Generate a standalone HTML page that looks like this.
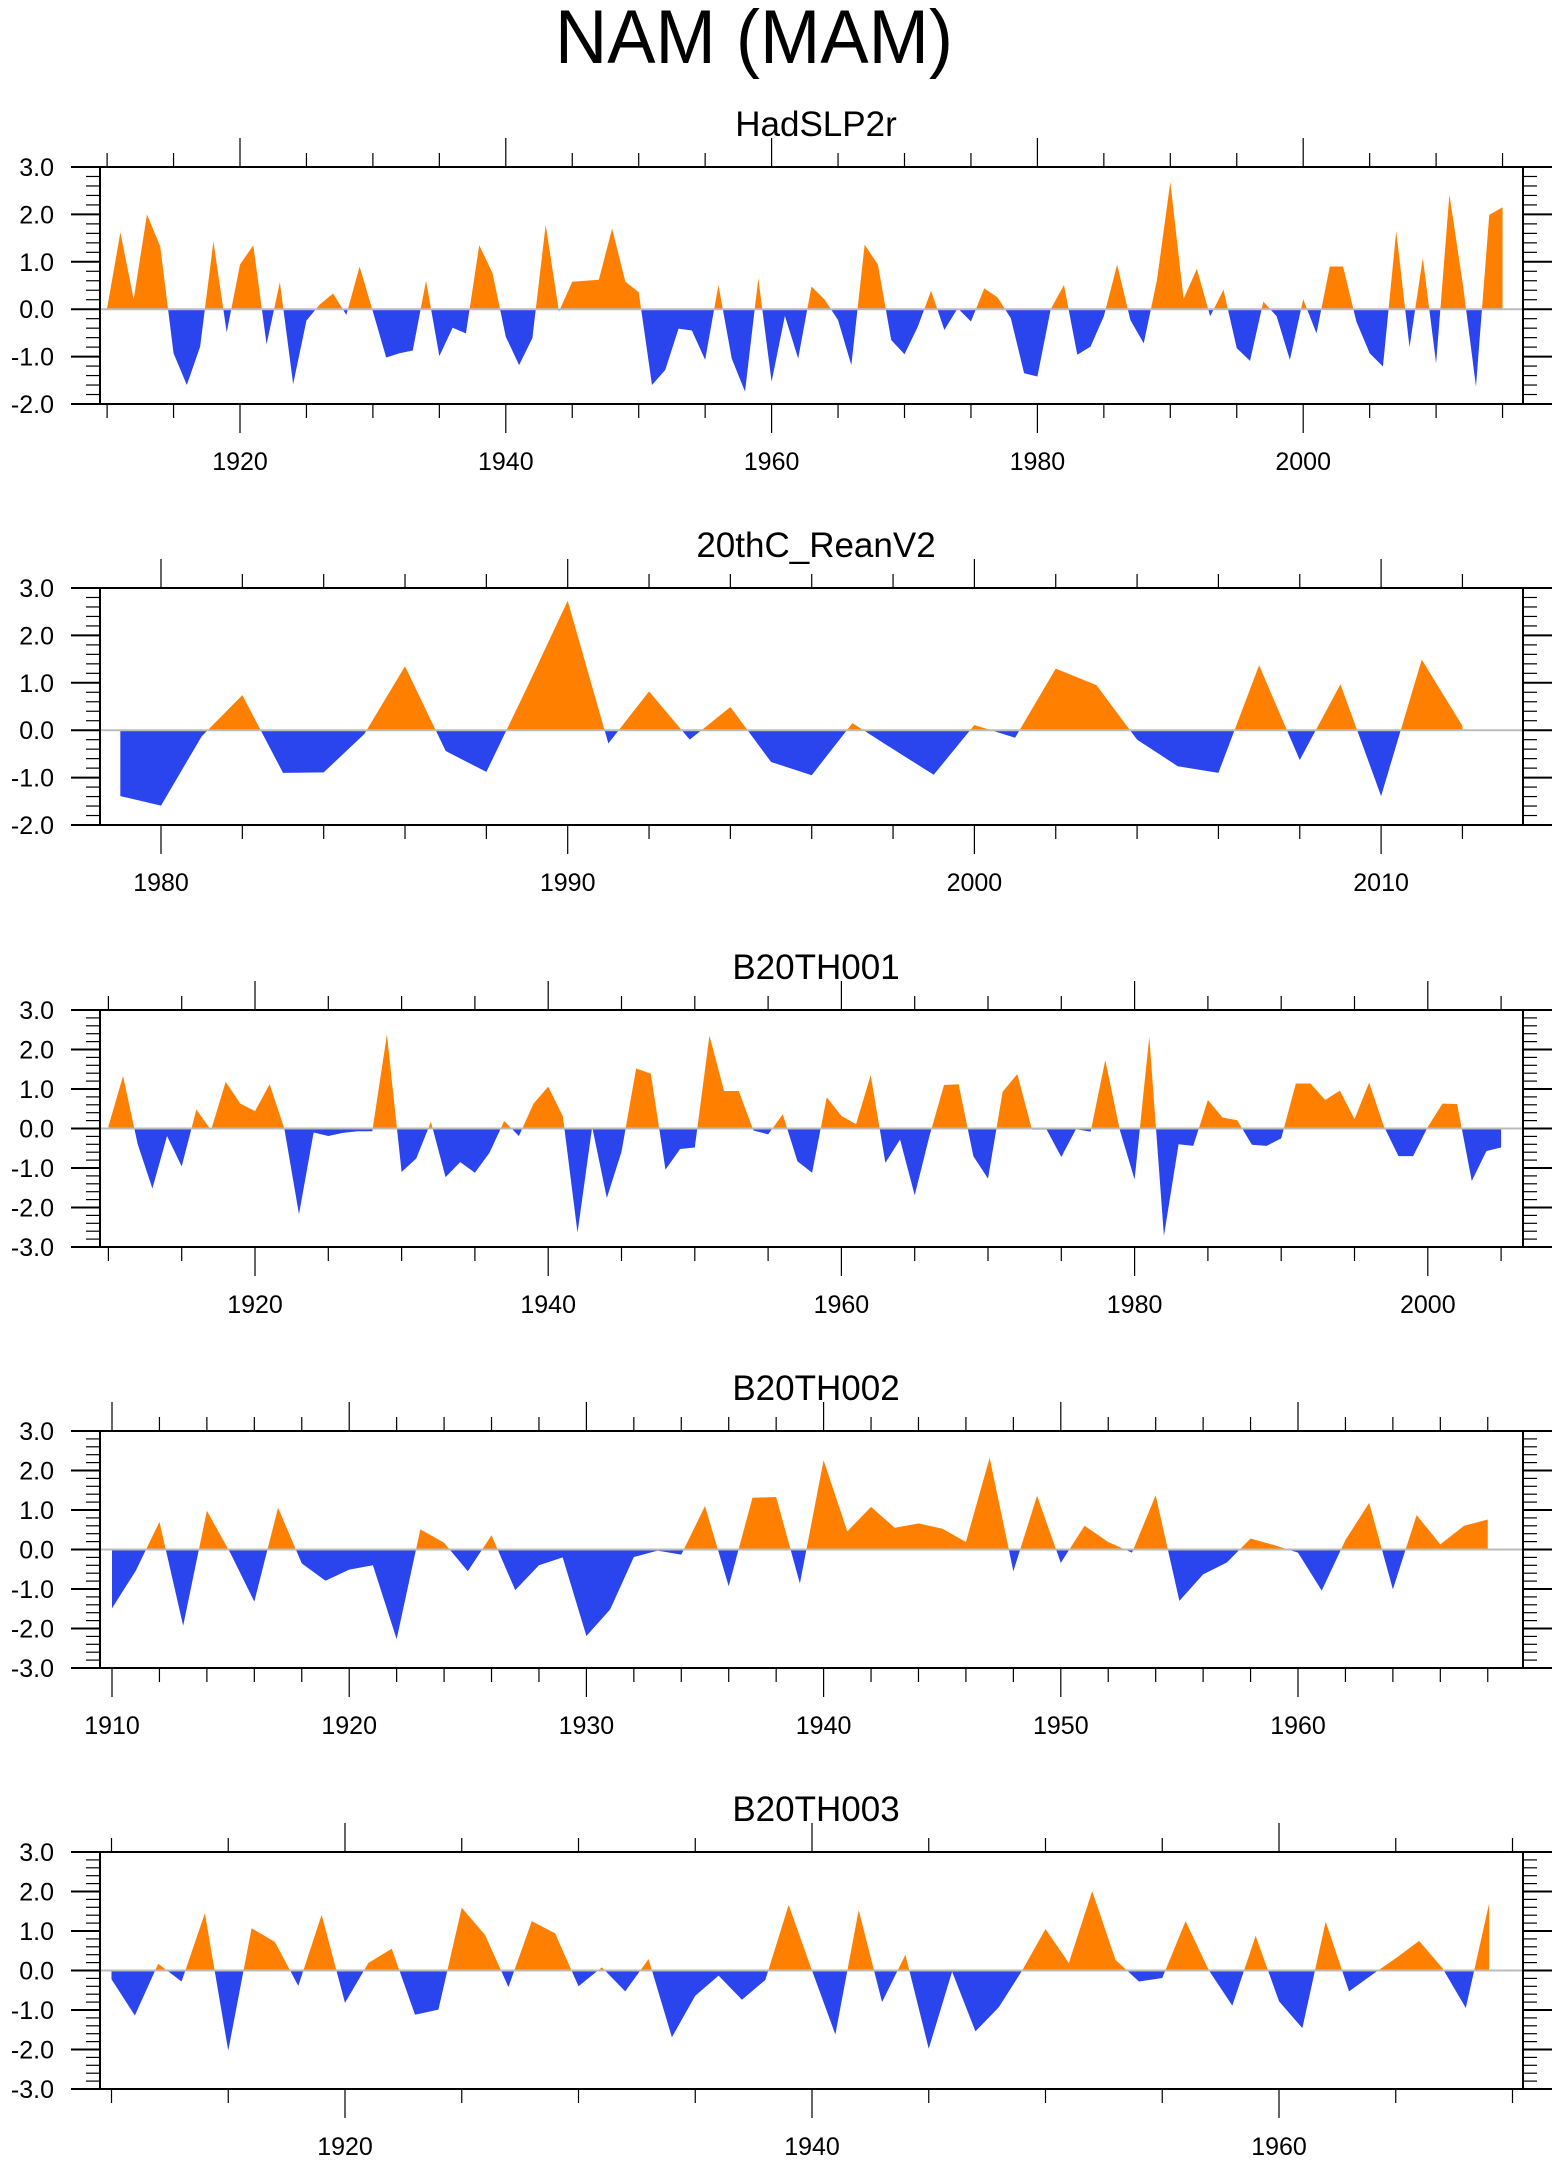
<!DOCTYPE html>
<html><head><meta charset="utf-8"><style>
html,body{margin:0;padding:0;background:#fff;}
svg{display:block;font-family:"Liberation Sans",Arial,sans-serif;}
</style></head><body>
<svg id="chart" width="1560" height="2165" viewBox="0 0 1560 2165" xmlns="http://www.w3.org/2000/svg">
<rect width="1560" height="2165" fill="#fff"/>
<text x="754" y="63" font-size="76" text-anchor="middle" textLength="398" lengthAdjust="spacingAndGlyphs">NAM (MAM)</text>
</svg>
<script>
const hadYears0 = 1910;
const hadValues = [0.02,1.62,0.21,2.0,1.32,-0.93,-1.6,-0.79,1.43,-0.49,0.94,1.35,-0.74,0.57,-1.58,-0.24,0.1,0.33,-0.12,0.9,-0.05,-1.02,-0.93,-0.87,0.6,-0.99,-0.39,-0.51,1.35,0.76,-0.58,-1.18,-0.61,1.78,-0.05,0.58,0.6,0.62,1.7,0.58,0.36,-1.6,-1.28,-0.41,-0.45,-1.07,0.51,-1.04,-1.74,0.65,-1.53,-0.14,-1.04,0.48,0.2,-0.23,-1.18,1.36,0.94,-0.65,-0.95,-0.37,0.39,-0.44,0.02,-0.26,0.44,0.25,-0.19,-1.35,-1.42,0.0,0.51,-0.96,-0.79,-0.15,0.94,-0.23,-0.72,0.62,2.68,0.22,0.85,-0.15,0.41,-0.82,-1.09,0.16,-0.15,-1.07,0.21,-0.51,0.9,0.9,-0.26,-0.93,-1.21,1.65,-0.8,1.08,-1.14,2.42,0.55,-1.63,1.99,2.15];
const reanYears0 = 1979;
const reanValues = [-1.39,-1.59,-0.13,0.74,-0.9,-0.89,-0.08,1.35,-0.44,-0.88,0.9,2.73,-0.28,0.82,-0.2,0.49,-0.67,-0.95,0.15,-0.4,-0.94,0.11,-0.16,1.3,0.95,-0.2,-0.76,-0.9,1.37,-0.63,0.97,-1.39,1.49,0.09];
const b1Years0 = 1910;
const b1Values = [0.05,1.33,-0.4,-1.52,-0.19,-0.96,0.48,-0.04,1.18,0.63,0.44,1.12,0.0,-2.17,-0.1,-0.19,-0.11,-0.07,-0.07,2.38,-1.1,-0.76,0.17,-1.23,-0.85,-1.12,-0.61,0.19,-0.19,0.63,1.06,0.31,-2.64,0.04,-1.76,-0.59,1.52,1.39,-1.04,-0.52,-0.48,2.35,0.95,0.95,-0.05,-0.15,0.36,-0.83,-1.12,0.79,0.32,0.11,1.35,-0.87,-0.28,-1.69,-0.2,1.1,1.12,-0.7,-1.27,0.93,1.38,-0.03,-0.03,-0.72,-0.02,-0.08,1.73,-0.05,-1.29,2.32,-2.72,-0.4,-0.44,0.72,0.28,0.21,-0.41,-0.44,-0.25,1.14,1.14,0.72,0.96,0.24,1.16,0.06,-0.7,-0.7,0.04,0.63,0.62,-1.33,-0.57,-0.48];
const b2Years0 = 1910;
const b2Values = [-1.49,-0.54,0.7,-1.93,0.98,-0.1,-1.32,1.06,-0.35,-0.79,-0.51,-0.4,-2.27,0.51,0.17,-0.55,0.36,-1.03,-0.4,-0.2,-2.19,-1.52,-0.19,-0.03,-0.13,1.1,-0.93,1.31,1.33,-0.86,2.26,0.46,1.08,0.55,0.66,0.53,0.19,2.32,-0.55,1.36,-0.34,0.6,0.19,-0.08,1.37,-1.3,-0.63,-0.33,0.28,0.11,-0.08,-1.04,0.24,1.18,-1.01,0.87,0.13,0.6,0.76];
const b3Years0 = 1910;
const b3Values = [-0.22,-1.14,0.17,-0.28,1.45,-2.03,1.07,0.72,-0.39,1.41,-0.82,0.19,0.55,-1.12,-0.99,1.59,0.9,-0.42,1.25,0.94,-0.4,0.08,-0.53,0.29,-1.69,-0.64,-0.13,-0.74,-0.24,1.66,0.0,-1.62,1.53,-0.8,0.4,-1.98,-0.03,-1.54,-0.93,0.0,1.05,0.19,2.01,0.27,-0.28,-0.19,1.25,0.0,-0.89,0.88,-0.78,-1.46,1.24,-0.53,-0.1,0.31,0.75,0.06,-0.95,1.7];
const panelTitles = ["HadSLP2r","20thC_ReanV2","B20TH001","B20TH002","B20TH003"];
const yTickLabels = ["-3.0","-2.0","-1.0","0.0","1.0","2.0","3.0"];

const NS="http://www.w3.org/2000/svg";
const svg=document.getElementById('chart');
function mk(tag,attrs,parent){const e=document.createElementNS(NS,tag);for(const k in attrs)e.setAttribute(k,attrs[k]);(parent||svg).appendChild(e);return e;}

const L=100,R=1523;
const panels=[
 {title:panelTitles[0],y0:hadYears0,vals:hadValues,top:167,ymin:-2,ymax:3,ref:1920,refX:240,ppy:13.29,minor:5,major:20,first:1910,last:2015},
 {title:panelTitles[1],y0:reanYears0,vals:reanValues,top:588,ymin:-2,ymax:3,ref:1980,refX:161,ppy:40.67,minor:2,major:10,first:1978,last:2012},
 {title:panelTitles[2],y0:b1Years0,vals:b1Values,top:1010,ymin:-3,ymax:3,ref:1920,refX:255,ppy:14.66,minor:5,major:20,first:1910,last:2005},
 {title:panelTitles[3],y0:b2Years0,vals:b2Values,top:1431,ymin:-3,ymax:3,ref:1910,refX:112,ppy:23.72,minor:2,major:10,first:1910,last:1968},
 {title:panelTitles[4],y0:b3Years0,vals:b3Values,top:1852,ymin:-3,ymax:3,ref:1920,refX:345,ppy:23.35,minor:5,major:20,first:1910,last:1970}
];
const H=237;
panels.forEach((p,pi)=>{
 const g=mk('g',{});
 
 
 const bot=p.top+H;
 const xs=yr=>p.refX+(yr-p.ref)*p.ppy;
 const ys=v=>bot-(v-p.ymin)/(p.ymax-p.ymin)*H;
 const zy=ys(0);
 const t=mk('text',{x:816,y:p.top-31,'font-size':35,'text-anchor':'middle'},g);
 t.textContent=p.title;
 
 
 const cid='c'+pi;
 const cpA=mk('clipPath',{id:cid+'a'},g);mk('rect',{x:L,y:p.top,width:R-L,height:zy-p.top},cpA);
 const cpB=mk('clipPath',{id:cid+'b'},g);mk('rect',{x:L,y:zy,width:R-L,height:bot-zy},cpB);
 let d='M'+xs(p.y0).toFixed(2)+','+zy.toFixed(2);
 p.vals.forEach((v,i)=>{d+=' L'+xs(p.y0+i).toFixed(2)+','+ys(v).toFixed(2);});
 d+=' L'+xs(p.y0+p.vals.length-1).toFixed(2)+','+zy.toFixed(2)+' Z';
 const pa=mk('path',{d:d,fill:'#ff8000','clip-path':'url(#'+cid+'a)'},g);
 
 
 const pb=mk('path',{d:d,fill:'#2a44ee','clip-path':'url(#'+cid+'b)'},g);
 
 
 const zl=mk('line',{x1:L,x2:R,y1:zy,y2:zy,stroke:'#bbb','stroke-width':2},g);
 
 
 const fr=mk('rect',{x:L,y:p.top,width:R-L,height:H,fill:'none',stroke:'#000','stroke-width':2},g);
 
 
 let s=Math.ceil(p.first/p.minor)*p.minor;
 for(let yr=s;yr<=p.last;yr+=p.minor){
  const x=xs(yr); if(x<L||x>R)continue;
  const maj=yr%p.major===0; const len=maj?29:14;
  mk('line',{x1:x,x2:x,y1:p.top,y2:p.top-len,stroke:'#000','stroke-width':1.2},g);
  mk('line',{x1:x,x2:x,y1:bot,y2:bot+len,stroke:'#000','stroke-width':1.2},g);
  if(maj){const lb=mk('text',{x:x,y:bot+66,'font-size':25,'text-anchor':'middle'},g);lb.textContent=String(yr);
   
   }
 }
 for(let k=Math.round(p.ymin*5);k<=Math.round(p.ymax*5);k++){
  const v=k/5,y=ys(v),maj=k%5===0,len=maj?29:14;
  mk('line',{x1:L,x2:L-len,y1:y,y2:y,stroke:'#000','stroke-width':maj?2:1.2},g);
  mk('line',{x1:R,x2:R+len,y1:y,y2:y,stroke:'#000','stroke-width':maj?2:1.2},g);
  if(maj){const lb=mk('text',{x:54,y:y+9,'font-size':25,'text-anchor':'end'},g);lb.textContent=yTickLabels[Math.round(v)+3];
   
   }
 }
});
</script>
</body></html>
